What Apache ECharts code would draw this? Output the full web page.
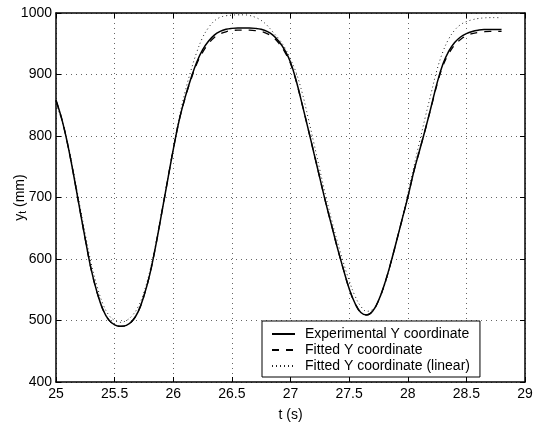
<!DOCTYPE html>
<html>
<head>
<meta charset="utf-8">
<script src="https://cdn.jsdelivr.net/npm/echarts@6/dist/echarts.min.js"></script>
<style>
  html, body { margin: 0; padding: 0; background: #fff; }
  #chart { width: 540px; height: 422px; }
</style>
</head>
<body>
<div id="chart"></div>
<script>
// Time samples (s)
const times = [25.00,25.05,25.10,25.15,25.20,25.25,25.30,25.35,25.40,25.45,25.50,25.55,25.60,25.65,25.70,25.75,25.80,25.85,25.90,25.95,
  26.00,26.05,26.10,26.15,26.20,26.25,26.30,26.35,26.40,26.45,26.50,26.55,26.60,26.65,26.70,26.75,26.80,26.85,26.90,26.95,
  27.00,27.05,27.10,27.15,27.20,27.25,27.30,27.35,27.40,27.45,27.50,27.55,27.60,27.65,27.70,27.75,27.80,27.85,27.90,27.95,
  28.00,28.05,28.10,28.15,28.20,28.25,28.30,28.35,28.40,28.45,28.50,28.55,28.60,28.65,28.70,28.75,28.80];

// Experimental Y coordinate (mm)
const experimental = [858,827,786,737,684,632,583,546,518,501,493,490.5,492,499,514,540,575,621,673,726,
  778,825,862,893,920,940,954,964,970,973.5,975,975.5,975.5,975.5,975,973.5,970,964,954,940,
  920,889,851,812,772,732,692,655,618,584,552,528,513,509,515,532,558,590,626,663,
  700,741,776,811,848,886,917,938,952,961,966.5,970,972,973,973,973,973];

// Fitted Y coordinate (mm)
const fitted = [858,827,786,737,684,632,583,546,518,501,493,490.5,492,499,514,540,575,621,673,726,
  778,825,861,891,917,936,950,960,966,969.5,971.5,972,972,972,971.5,970,966.5,961,951,937,
  918,888,851,812,772,732,692,655,618,584,552,528,513,509,515,532,558,590,626,663,
  700,741,776,811,847,884,914,934,948,957,963,966.5,968.5,969.5,970,970,970];

// Fitted Y coordinate (linear) (mm)
const fittedLinear = [852,825,788,741,690,640,593,556,527,509,500,497,500,508,522,546,580,624,675,727,
  779,829,871,906,936,960,976,987,993,995.5,996.5,997,997,996,993,988,980,969,958,944,
  925,902,870,830,788,745,703,664,628,595,565,540,523,515,518,532,556,588,625,664,
  705,748,790,831,870,908,937,958,972,981,986,989,991,992,992.5,992.5,992];

const xTicks = { min: 25, max: 29, interval: 0.5 };
const yTicks = { min: 400, max: 1000, interval: 100 };

const seriesNames = ['Experimental Y coordinate', 'Fitted Y coordinate', 'Fitted Y coordinate (linear)'];

function pairs(vals) { return times.map((t, i) => [t, vals[i]]); }

const font = '"Liberation Sans", Arial, Helvetica, sans-serif';
const gridLine = { show: true, lineStyle: { color: '#666', width: 1, type: [1, 4] } };
const plain = v => String(v);

const chart = echarts.init(document.getElementById('chart'), null, { renderer: 'canvas' });
chart.setOption({
  animation: false,
  backgroundColor: '#fff',
  grid: { left: 56, right: 15, top: 13, bottom: 40, containLabel: false, outerBoundsMode: 'none' },
  legend: {
    orient: 'vertical',
    left: 262, top: 321,
    padding: [6, 10, 4, 9],
    itemWidth: 23,
    itemHeight: 10,
    itemGap: 2,
    itemStyle: { opacity: 0, color: 'rgba(0,0,0,0)', borderWidth: 0 },
    backgroundColor: '#fff',
    borderColor: '#000',
    borderWidth: 1,
    borderRadius: 0,
    textStyle: { fontFamily: font, fontSize: 14, color: '#000', lineHeight: 14, padding: [0, 0, 0, 5] },
    data: seriesNames
  },
  xAxis: [{
    type: 'value', min: xTicks.min, max: xTicks.max, interval: xTicks.interval,
    position: 'bottom',
    name: 't (s)', nameLocation: 'middle', nameGap: 26, nameMoveOverlap: false,
    nameTextStyle: { fontFamily: font, fontSize: 14, color: '#000' },
    axisLine: { show: true, onZero: false, lineStyle: { color: '#000', width: 1.5 } },
    axisTick: { show: true, inside: true, length: 5, lineStyle: { color: '#000', width: 1 } },
    axisLabel: { fontFamily: font, fontSize: 14, color: '#000', margin: 5, formatter: plain },
    splitLine: gridLine
  }, {
    type: 'value', min: xTicks.min, max: xTicks.max, interval: xTicks.interval,
    position: 'top',
    axisLine: { show: true, onZero: false, lineStyle: { color: '#000', width: 1.5 } },
    axisTick: { show: true, inside: true, length: 5, lineStyle: { color: '#000', width: 1 } },
    axisLabel: { show: false },
    splitLine: { show: false }
  }],
  yAxis: [{
    type: 'value', min: yTicks.min, max: yTicks.max, interval: yTicks.interval,
    position: 'left',
    name: '{n|y}{s|t}{n| (mm)}', nameLocation: 'middle', nameGap: 28, nameRotate: 90, nameMoveOverlap: false,
    nameTextStyle: {
      fontFamily: font, fontSize: 14, color: '#000',
      rich: {
        n: { fontFamily: font, fontSize: 14, color: '#000' },
        s: { fontFamily: font, fontSize: 10, color: '#000', verticalAlign: 'bottom', padding: [6, 0, 0, 0] }
      }
    },
    axisLine: { show: true, onZero: false, lineStyle: { color: '#000', width: 1.5 } },
    axisTick: { show: true, inside: true, length: 5, lineStyle: { color: '#000', width: 1 } },
    axisLabel: { fontFamily: font, fontSize: 14, color: '#000', margin: 4, formatter: plain },
    splitLine: gridLine
  }, {
    type: 'value', min: yTicks.min, max: yTicks.max, interval: yTicks.interval,
    position: 'right',
    axisLine: { show: true, onZero: false, lineStyle: { color: '#000', width: 1.5 } },
    axisTick: { show: true, inside: true, length: 5, lineStyle: { color: '#000', width: 1 } },
    axisLabel: { show: false },
    splitLine: { show: false }
  }],
  series: [{
    name: seriesNames[2], type: 'line', data: pairs(fittedLinear), symbol: 'none', smooth: 0.4,
    lineStyle: { color: '#222', width: 1, type: [1, 3] }, itemStyle: { color: '#000' }, z: 3
  }, {
    name: seriesNames[1], type: 'line', data: pairs(fitted), symbol: 'none', smooth: 0.4,
    lineStyle: { color: '#000', width: 1.3, type: [7, 7] }, itemStyle: { color: '#000' }, z: 4
  }, {
    name: seriesNames[0], type: 'line', data: pairs(experimental), symbol: 'none', smooth: 0.4,
    lineStyle: { color: '#000', width: 1.5, type: 'solid' }, itemStyle: { color: '#000' }, z: 5
  }]
});
</script>
</body>
</html>
